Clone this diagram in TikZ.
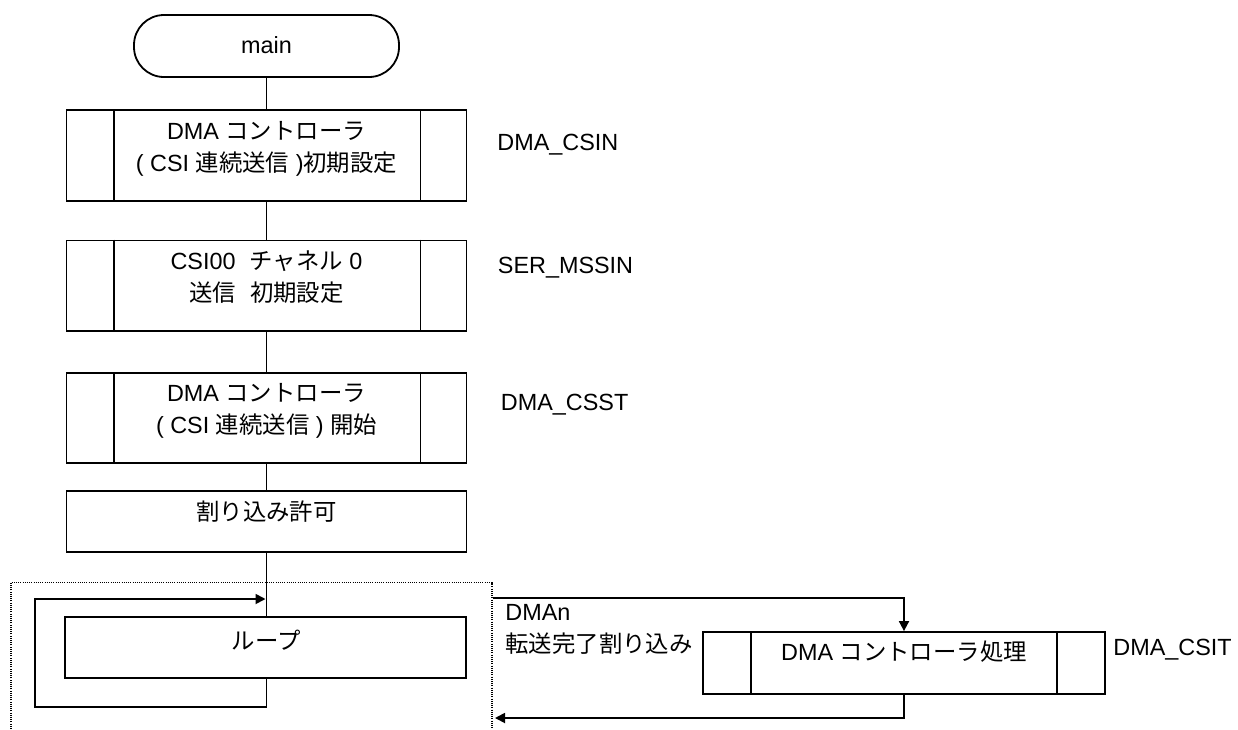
\documentclass[tikz,border=0pt]{standalone}
\usepackage{fontspec}
\setmainfont{Liberation Sans}
\newfontfamily\jp{Noto Sans CJK JP}
\usetikzlibrary{arrows.meta,calc}
\newcommand{\J}[1]{{\jp #1}}
\begin{document}
\begin{tikzpicture}[x=0.5pt,y=-0.5pt,
  every node/.style={font=\fontsize{11.7pt}{16pt}\selectfont},
  ln/.style={line width=0.9pt},
  arr/.style={ln,-{Triangle[length=5pt,width=5pt]}},
  procbox/.style={draw,ln,rectangle,inner sep=0pt,minimum width=200pt},
  term/.style={draw,ln,rectangle,rounded corners=15pt,inner sep=0pt,minimum width=132.5pt,minimum height=31pt},
  txt/.style={inner sep=0pt,align=center},
  lbl/.style={inner sep=0pt,anchor=west,align=left},
  dotbox/.style={line width=0.9pt,dash pattern=on 0.5pt off 0.6pt}
]
\useasboundingbox (0,0) rectangle (1238,729);

% terminal
\node[term] (main) at (266.5,46) {};
\node[txt] (maint) at (266.5,45) {main};

% box 1
\node[procbox,minimum height=45.5pt] (b1) at (266.5,155.5) {};
\draw[ln] ($(b1.north west)+(48,0)$) -- ($(b1.south west)+(48,0)$);
\draw[ln] ($(b1.north east)+(-47,0)$) -- ($(b1.south east)+(-47,0)$);
\node[txt] (b1t) at (266.5,149) {DMA \J{コントローラ}\\( CSI \J{連続送信} )\J{初期設定}};
\node[lbl] (b1l) at (497,145) {DMA\_CSIN};

% box 2
\node[procbox,minimum height=45.25pt] (b2) at (266.5,285.75) {};
\draw[ln] ($(b2.north west)+(48,0)$) -- ($(b2.south west)+(48,0)$);
\draw[ln] ($(b2.north east)+(-47,0)$) -- ($(b2.south east)+(-47,0)$);
\node[txt] (b2t) at (266.5,277) {CSI00\hspace{0.6em}\J{チャネル} 0\\\J{送信}\hspace{0.6em}\J{初期設定}};
\node[lbl] (b2l) at (497.5,268) {SER\_MSSIN};

% box 3
\node[procbox,minimum height=45pt] (b3) at (266.5,418) {};
\draw[ln] ($(b3.north west)+(48,0)$) -- ($(b3.south west)+(48,0)$);
\draw[ln] ($(b3.north east)+(-47,0)$) -- ($(b3.south east)+(-47,0)$);
\node[txt] (b3t) at (266.5,411) {DMA \J{コントローラ}\\( CSI \J{連続送信} ) \J{開始}};
\node[lbl] (b3l) at (500.5,405) {DMA\_CSST};

% box 4
\node[procbox,minimum height=30.5pt] (b4) at (266.5,521.7) {};
\node[txt] (b4t) at (266.5,512) {\J{割り込み許可}};

% dotted frame
\draw[dotbox] (10.7,729) -- (10.7,582.5) -- (491.7,582.5) -- (491.7,729);

% loop
\node[procbox,minimum width=200.5pt,minimum height=30.5pt] (loop) at (265.5,647.5) {};
\node[txt] (loopt) at (266,640) {\J{ループ}};

% DMA processing
\node[procbox,minimum width=201pt,minimum height=31pt] (proc) at (904,663) {};
\draw[ln] ($(proc.north west)+(49,0)$) -- ($(proc.south west)+(49,0)$);
\draw[ln] ($(proc.north east)+(-49,0)$) -- ($(proc.south east)+(-49,0)$);
\node[txt] (proct) at (904,652) {DMA \J{コントローラ処理}};
\node[lbl] (procl) at (1113,650) {DMA\_CSIT};
\node[lbl] (irqt) at (505,629.5) {DMAn\\\J{転送完了割り込み}};

% connectors
\draw[ln] (main.south) -- (b1.north);
\draw[ln] (b1.south) -- (b2.north);
\draw[ln] (b2.south) -- (b3.north);
\draw[ln] (b3.south) -- (b4.north);
\draw[ln] (b4.south) -- (b4.south |- loop.north);

\coordinate (lb) at (35,707);
\coordinate (lm) at (265.5,599);
\draw[arr] (loop.south -| b4.south) |- (lb) |- (lm);

\coordinate (irq) at (493,598);
\draw[arr] (irq) -| (proc.north);
\coordinate (ret) at (495,718);
\draw[arr] (proc.south) |- (ret);
\end{tikzpicture}
\end{document}
